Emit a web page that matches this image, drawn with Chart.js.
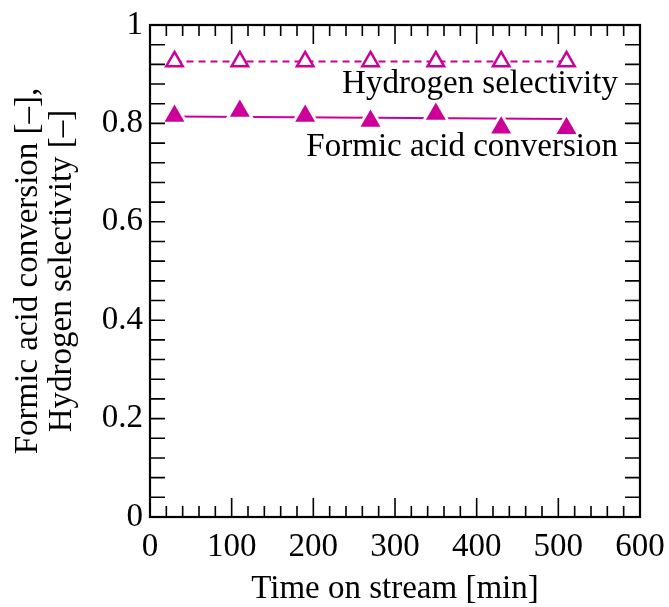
<!DOCTYPE html>
<html>
<head>
<meta charset="utf-8">
<script src="https://cdn.jsdelivr.net/npm/chart.js@4.4.0/dist/chart.umd.min.js"></script>
<style>
  html, body { margin: 0; padding: 0; background: #fff; overflow: hidden; }
  #wrap { width: 669px; height: 607px; }
</style>
</head>
<body>
<div id="wrap"><canvas id="chart"></canvas></div>
<script>
// --- Datos ---
const timeMin = [30, 110, 190, 270, 350, 430, 510];
const hydrogenSelectivity = [0.926, 0.926, 0.926, 0.926, 0.926, 0.926, 0.926];
const formicConversion = [0.815, 0.825, 0.815, 0.805, 0.819, 0.791, 0.790];
// recta de tendencia de la conversión (extremos leídos)
const conversionFitX = [30, 510];
const conversionFitY = [0.814, 0.809];

const magenta = '#cc0099';
const serif = "'Liberation Serif', 'DejaVu Serif', serif";
const fontSize = 33;

const toPoints = (xs, ys) => xs.map((v, i) => ({ x: v, y: ys[i] }));

Chart.defaults.color = '#000';
Chart.defaults.font.family = serif;
Chart.defaults.font.size = fontSize;

// --- Marco con marcas hacia dentro (arriba, abajo, izquierda, derecha) ---
const frameTicks = {
    id: 'frameTicks',
    afterDraw(chart) {
        const { ctx, chartArea: a, scales: { x, y } } = chart;
        ctx.save();
        ctx.strokeStyle = '#000';
        ctx.lineWidth = 1.6;
        ctx.beginPath();
        for (let i = 0; i <= 30; i++) {
            const px = x.getPixelForValue(i * 20);
            const len = i % 5 === 0 ? 19 : 11;
            ctx.moveTo(px, a.bottom); ctx.lineTo(px, a.bottom - len);
            ctx.moveTo(px, a.top); ctx.lineTo(px, a.top + len);
        }
        for (let i = 0; i <= 25; i++) {
            const py = y.getPixelForValue(i * 0.04);
            ctx.moveTo(a.left, py); ctx.lineTo(a.left + 15, py);
            ctx.moveTo(a.right, py); ctx.lineTo(a.right - 15, py);
        }
        ctx.stroke();
        ctx.lineWidth = 2.2;
        ctx.strokeRect(a.left, a.top, a.right - a.left, a.bottom - a.top);
        ctx.restore();
    }
};

// --- Etiquetas de las series dentro del gráfico ---
const seriesLabels = {
    id: 'seriesLabels',
    afterDatasetsDraw(chart) {
        const { ctx, scales: { x, y } } = chart;
        ctx.save();
        ctx.font = fontSize + 'px ' + serif;
        ctx.fillStyle = '#000';
        ctx.textAlign = 'right';
        ctx.textBaseline = 'alphabetic';
        ctx.fillText('Hydrogen selectivity', x.getPixelForValue(573), y.getPixelForValue(0.861));
        ctx.fillText('Formic acid conversion', x.getPixelForValue(573), y.getPixelForValue(0.733));
        ctx.restore();
    }
};

new Chart(document.getElementById('chart'), {
    type: 'scatter',
    data: {
        datasets: [
            {
                label: 'Formic acid conversion',
                data: toPoints(timeMin, formicConversion),
                showLine: false,
                pointStyle: 'triangle',
                pointRadius: 11.5,
                backgroundColor: magenta,
                borderColor: magenta,
                borderWidth: 0,
                order: 1
            },
            {
                // halo blanco detrás de los triángulos rellenos
                label: 'halo',
                data: toPoints(timeMin, formicConversion),
                showLine: false,
                pointStyle: 'triangle',
                pointRadius: 17,
                backgroundColor: '#fff',
                borderWidth: 0,
                order: 2
            },
            {
                label: 'Conversion fit',
                data: toPoints(conversionFitX, conversionFitY),
                showLine: true,
                pointRadius: 0,
                borderColor: magenta,
                borderWidth: 2,
                order: 3
            },
            {
                label: 'Hydrogen selectivity',
                data: toPoints(timeMin, hydrogenSelectivity),
                showLine: true,
                borderColor: magenta,
                borderWidth: 2,
                borderDash: [7, 5],
                pointStyle: 'triangle',
                pointRadius: 9.5,
                pointBackgroundColor: '#fff',
                pointBorderColor: magenta,
                pointBorderWidth: 2.5,
                order: 0
            }
        ]
    },
    options: {
        responsive: true,
        maintainAspectRatio: false,
        animation: false,
        layout: { padding: { top: 25, right: 29, left: 0, bottom: 0 } },
        plugins: {
            legend: { display: false },
            tooltip: { enabled: false }
        },
        scales: {
            x: {
                type: 'linear',
                min: 0,
                max: 600,
                afterFit: s => { s.height = 90; s.paddingLeft = 0; s.paddingRight = 0; },
                ticks: { stepSize: 100, padding: 11, maxRotation: 0, autoSkip: false },
                grid: { display: false, drawTicks: false },
                border: { display: false },
                title: {
                    display: true,
                    text: 'Time on stream [min]',
                    font: { size: fontSize, lineHeight: 1.05 },
                    padding: { top: 0, bottom: 0 }
                }
            },
            y: {
                min: 0,
                max: 1,
                afterFit: s => { s.width = 150; s.paddingTop = 0; s.paddingBottom = 0; },
                ticks: {
                    stepSize: 0.2,
                    padding: 7,
                    callback: v => String(Math.round(v * 10) / 10)
                },
                grid: { display: false, drawTicks: false },
                border: { display: false },
                title: {
                    display: true,
                    text: ['Formic acid conversion [–],', 'Hydrogen selectivity [–]'],
                    font: { size: fontSize, lineHeight: 1.03 },
                    padding: { top: 11, bottom: 0 }
                }
            }
        }
    },
    plugins: [frameTicks, seriesLabels]
});
</script>
</body>
</html>
